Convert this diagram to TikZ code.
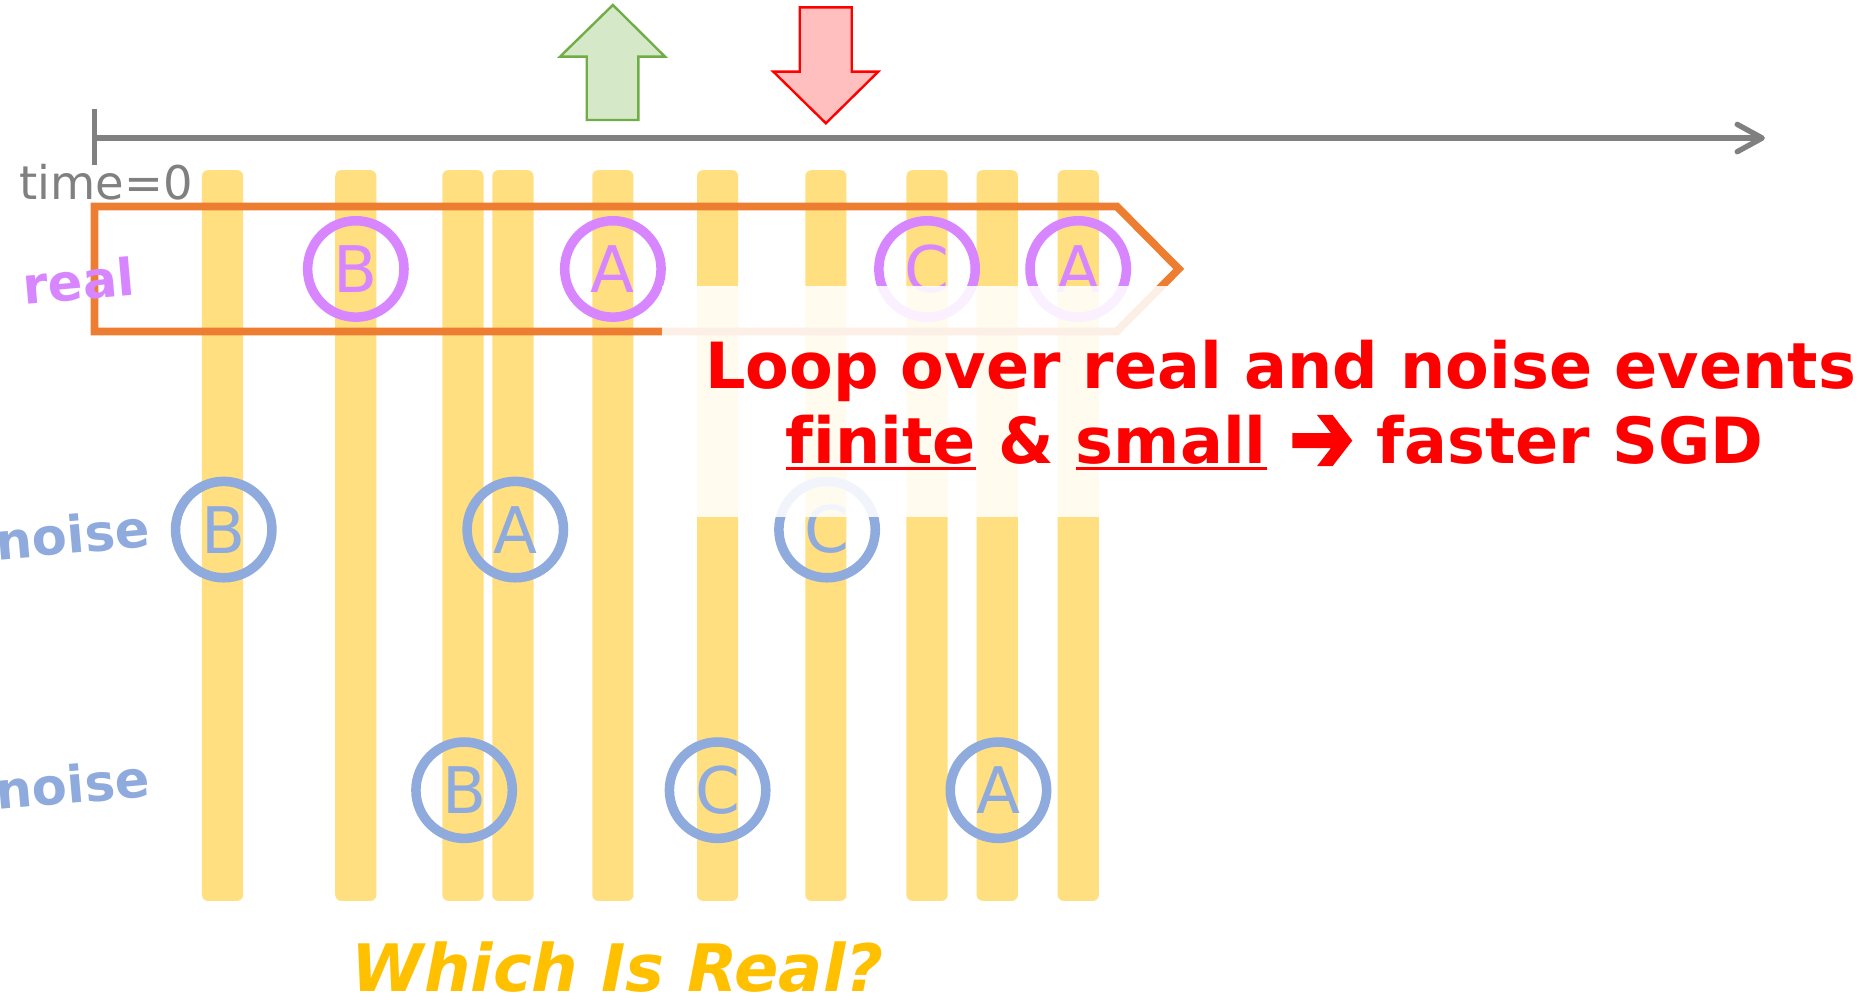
\documentclass[tikz,border=0pt]{standalone}
\usepackage{fontspec}
\setmainfont{DejaVu Sans}[Ligatures=NoCommon,BoldFont={DejaVu Sans Bold},ItalicFont={DejaVu Sans Oblique},BoldItalicFont={DejaVu Sans Bold Oblique}]
\newfontfamily\djvheavy{DejaVu Sans}[FakeBold=3]
\usetikzlibrary{arrows.meta}
\definecolor{barY}{RGB}{255,223,128}
\definecolor{evP}{RGB}{216,134,255}
\definecolor{evB}{RGB}{143,170,220}
\definecolor{loopO}{RGB}{237,125,49}
\definecolor{grS}{RGB}{112,173,71}
\definecolor{grF}{RGB}{213,232,199}
\definecolor{rdF}{RGB}{255,191,191}
\definecolor{tlG}{RGB}{128,128,128}
\definecolor{goldY}{RGB}{255,192,0}
\newcommand\redul[1]{\setbox0\hbox{#1}\rlap{\rule[-5.8pt]{\wd0}{3.2pt}}\box0\relax}
\newcommand\heavyarrow{\raisebox{-7.5pt}{\resizebox{55pt}{47pt}{\djvheavy ➔}}}
\begin{document}
\begin{tikzpicture}[x=1pt,y=-1pt,
  barstyle/.style={fill=barY, rounded corners=5pt},
  realev/.style={circle, draw=evP, line width=8pt, minimum size=81pt, inner sep=0pt, text=evP, font=\fontsize{54}{54}\selectfont},
  noiseev/.style={realev, draw=evB, text=evB},
  rowlab/.style={font=\bfseries\fontsize{43}{43}\selectfont, rotate=5, inner sep=0pt},
  tline/.style={draw=tlG, line width=4.5pt},
  redtxt/.style={text=red, font=\bfseries\fontsize{53.5}{54}\selectfont, inner sep=0pt, anchor=base}
  ]
\useasboundingbox (0,0) rectangle (1568,841);
% event bars
\foreach \x in {187,299,389,431,515,603,694,779,838,906}
  \fill[barstyle] (\x-17.3,143) rectangle (\x+17.3,757);
% timeline
\coordinate (t0) at (79.5,116);
\coordinate (tE) at (1483,116);
\coordinate (tkA) at (79.5,91.5);
\coordinate (tkB) at (79.5,139);
\draw[tline, -{Straight Barb[round,length=21pt,width=23pt]}] (t0) -- (tE);
\draw[tline] (tkA) -- (tkB);
\node[text=tlG, font=\fontsize{39}{39}\selectfont, inner sep=0pt, anchor=base] (tzero) at (89,167.3) {time=0};
% up / down arrows
\draw[draw=grS, fill=grF, line width=2pt] (515,4.2) -- (558.8,47.6) -- (536.4,47.6) -- (536.4,100.8) -- (493,100.8) -- (493,47.6) -- (470.6,47.6) -- cycle;
\draw[draw=red, fill=rdF, line width=2pt] (672,6.2) -- (715.7,6.2) -- (715.7,60.2) -- (738,60.2) -- (694,103.6) -- (649.8,60.2) -- (672,60.2) -- cycle;
% loop outline
\draw[draw=loopO, line width=6.5pt, miter limit=10] (79.5,173.5) -- (938.5,173.5) -- (990.5,226) -- (938.5,278.5) -- (79.5,278.5) -- cycle;
% events
\node[realev] (r1) at (299,226) {B};
\node[realev] (r2) at (515,226) {A};
\node[realev] (r3) at (779,226) {C};
\node[realev] (r4) at (906,226) {A};
\node[noiseev] (m1) at (188,445) {B};
\node[noiseev] (m2) at (433,445) {A};
\node[noiseev] (m3) at (695,445) {C};
\node[noiseev] (n1) at (390,664) {B};
\node[noiseev] (n2) at (603,664) {C};
\node[noiseev] (n3) at (839,664) {A};
% row labels
\node[rowlab, text=evP] (lreal) at (66,236) {real};
\node[rowlab, text=evB] (lnoise1) at (61,449) {noise};
\node[rowlab, text=evB] (lnoise2) at (61,659) {noise};
% fading overlay
\fill[white, fill opacity=0.88] (556,240) rectangle (1568,434.5);
% message
\node[redtxt] (msg1) at (1076,326.3) {Loop over real and noise events};
\node[redtxt] (msg2) at (1071,389.4) {\redul{finite} \& \redul{small} \heavyarrow{} faster SGD};
% title
\node[text=goldY, font=\bfseries\itshape\fontsize{55}{55}\selectfont, inner sep=0pt, anchor=base] (title) at (519,833.3) {Which Is Real?};
\end{tikzpicture}
\end{document}
